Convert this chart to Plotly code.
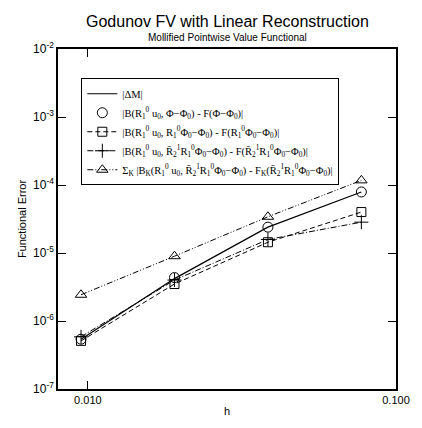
import plotly.graph_objects as go

h = [0.0095, 0.0191, 0.0384, 0.0772]
delta_m = [5.4e-7, 4.2e-6, 2.4e-5, 7.9e-5]
circle_vals = [5.4e-7, 4.35e-6, 2.4e-5, 7.9e-5]
square_vals = [5.1e-7, 3.5e-6, 1.44e-5, 4.0e-5]
plus_vals = [5.85e-7, 4.0e-6, 1.58e-5, 2.84e-5]
tri_vals = [2.43e-6, 8.97e-6, 3.41e-5, 1.17e-4]

y_tickvals = [1e-7, 1e-6, 1e-5, 1e-4, 1e-3, 1e-2]
y_ticktext = ["10<sup>-7</sup>", "10<sup>-6</sup>", "10<sup>-5</sup>", "10<sup>-4</sup>", "10<sup>-3</sup>", "10<sup>-2</sup>"]
x_tickvals = [0.01, 0.1]
x_ticktext = ["0.010", "0.100"]

R10 = "R<sub>1</sub><sup>0</sup>"
Rb21 = "R\u0304<sub>2</sub><sup>1</sup>"
P0 = "Φ<sub>0</sub>"
names = [
    "|ΔM|",
    f"|B({R10} u<sub>0</sub>, Φ−{P0}) - F(Φ−{P0})|",
    f"|B({R10} u<sub>0</sub>, {R10}{P0}−{P0}) - F({R10}{P0}−{P0})|",
    f"|B({R10} u<sub>0</sub>, {Rb21}{R10}{P0}−{P0}) - F({Rb21}{R10}{P0}−{P0})|",
    f"Σ<sub>K</sub> |B<sub>K</sub>({R10} u<sub>0</sub>, {Rb21}{R10}{P0}−{P0}) - F<sub>K</sub>({Rb21}{R10}{P0}−{P0})|",
]

fig = go.Figure()
fig.add_trace(go.Scatter(x=h, y=delta_m, mode="lines", name=names[0],
                         line=dict(color="black", width=1.2)))
fig.add_trace(go.Scatter(x=h, y=circle_vals, mode="markers", name=names[1],
                         marker=dict(symbol="circle-open", size=10, color="black", line=dict(width=1))))
fig.add_trace(go.Scatter(x=h, y=square_vals, mode="lines+markers", name=names[2],
                         line=dict(color="black", width=1, dash="5px,3px"),
                         marker=dict(symbol="square-open", size=9, color="black", line=dict(width=1))))
fig.add_trace(go.Scatter(x=h, y=plus_vals, mode="lines+markers", name=names[3],
                         line=dict(color="black", width=1, dash="6px,2px,1px,2px"),
                         marker=dict(symbol="cross-thin-open", size=10, color="black", line=dict(width=1, color="black"))))
fig.add_trace(go.Scatter(x=h, y=tri_vals, mode="lines+markers", name=names[4],
                         line=dict(color="black", width=1, dash="6px,2px,1px,2px,1px,2px"),
                         marker=dict(symbol="triangle-up-open", size=10, color="black", line=dict(width=1))))

fig.update_layout(
    width=422, height=428,
    margin=dict(l=58, r=14, t=49, b=29),
    paper_bgcolor="white", plot_bgcolor="white",
    font=dict(family="Liberation Sans, Arial", color="black", size=11),
    showlegend=True,
    legend=dict(x=0.069, y=0.914, xanchor="left", yanchor="top",
                bgcolor="white", bordercolor="black", borderwidth=1,
                font=dict(family="Liberation Serif, Times New Roman", size=10.5),
                tracegroupgap=0, itemwidth=30),
    annotations=[
        dict(text="Godunov FV with Linear Reconstruction", xref="paper", yref="paper",
             x=0.5, y=1, yshift=28, xanchor="center", yanchor="middle", showarrow=False,
             font=dict(size=16)),
        dict(text="Mollified Pointwise Value Functional", xref="paper", yref="paper",
             x=0.5, y=1, yshift=12, xanchor="center", yanchor="middle", showarrow=False,
             font=dict(size=10)),
    ],
    xaxis=dict(type="log", range=[-2.097, -1.0], tickvals=x_tickvals, ticktext=x_ticktext,
               ticks="inside", ticklen=8, tickcolor="black", showgrid=False, zeroline=False,
               showline=True, linecolor="black", linewidth=1.5, mirror="allticks",
               title=dict(text="h", standoff=2, font=dict(size=11)), tickfont=dict(size=11)),
    yaxis=dict(type="log", range=[-7, -2], tickvals=y_tickvals, ticktext=y_ticktext,
               ticks="inside", ticklen=8, tickcolor="black", showgrid=False, zeroline=False,
               showline=True, linecolor="black", linewidth=1.5, mirror="allticks",
               title=dict(text="Functional Error", standoff=4, font=dict(size=11)), tickfont=dict(size=12)),
)

fig.write_html("out.html")
